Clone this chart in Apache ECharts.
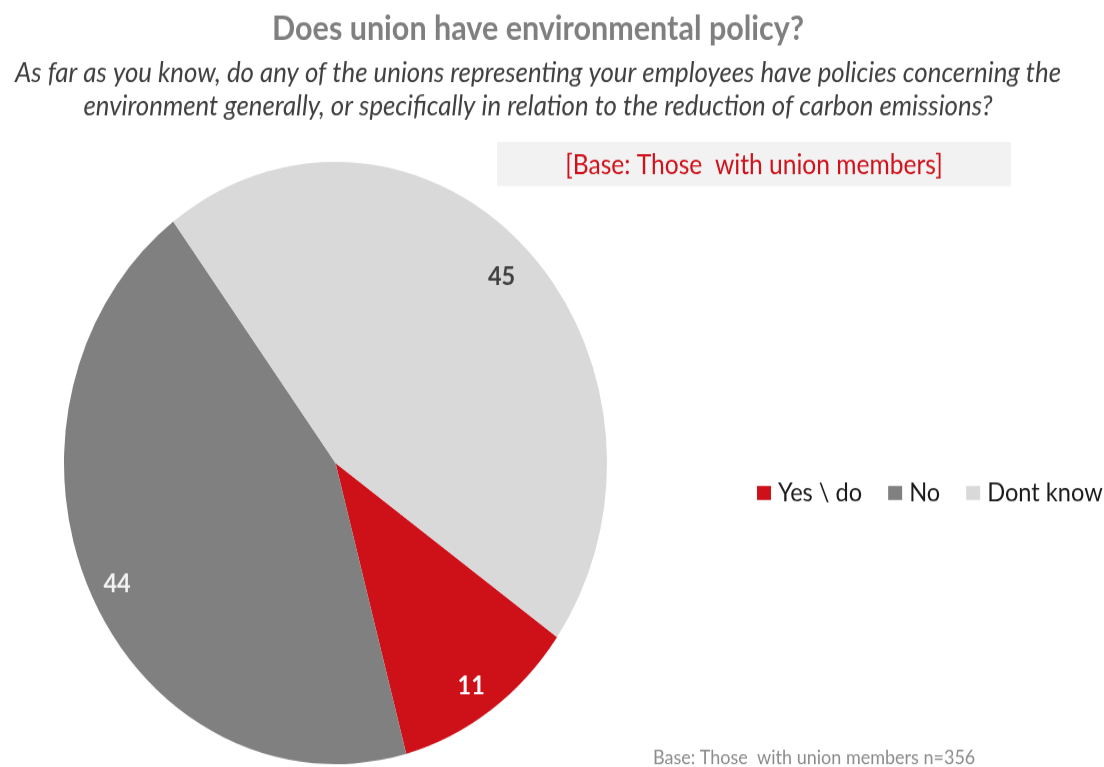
<!DOCTYPE html>
<html>
<head>
<meta charset="utf-8">
<script src="https://cdn.jsdelivr.net/npm/echarts@6/dist/echarts.min.js"></script>
<style>
  html, body { margin: 0; padding: 0; background: #ffffff; }
  #frame { width: 1104px; height: 767px; overflow: hidden; }
  /* the chart is laid out in a shorter box and stretched vertically, giving the oval pie */
  #chart { width: 1104px; height: 691.6px; transform: scaleY(1.109); transform-origin: 0 0; }
</style>
</head>
<body>
<div id="frame"><div id="chart"></div></div>
<script>
const categories = ['Yes \\ do', 'No', 'Dont know'];
const shares = [11, 44, 45];
const sliceColors = ['#CE1019', '#808080', '#D9D9D9'];
const labelColors = ['#FFFFFF', '#F2F2F2', '#404040'];

const titleText = 'Does union have environmental policy?';
const questionText = 'As far as you know, do any of the unions representing your employees have policies concerning the\nenvironment generally, or specifically in relation to the reduction of carbon emissions?';
const baseBoxText = '[Base: Those  with union members]';
const footnoteText = 'Base: Those  with union members n=356';

const FONT = 'Lato, "Open Sans", sans-serif';
const pieCenter = [335.5, 417.5];
const pieRadius = 271.5;
const startAngle = -35.3;

const chart = echarts.init(document.getElementById('chart'), null, { renderer: 'canvas' });

const sliceData = categories.map((name, i) => ({
  name: name,
  value: shares[i],
  itemStyle: { color: sliceColors[i] }
}));

const labelData = categories.map((name, i) => ({
  name: name,
  value: shares[i],
  itemStyle: { color: 'rgba(0,0,0,0)' },
  label: { color: labelColors[i] }
}));

chart.setOption({
  animation: false,
  backgroundColor: '#ffffff',
  title: [
    {
      text: titleText,
      left: 538, top: 26, padding: 0,
      textAlign: 'center', textVerticalAlign: 'middle',
      textStyle: { fontFamily: FONT, fontSize: 30.5, fontWeight: 'bold', color: '#7F7F7F' }
    },
    {
      text: questionText,
      left: 538, top: 80.8, padding: 0,
      textAlign: 'center', textVerticalAlign: 'middle',
      textStyle: { fontFamily: FONT, fontSize: 25.8, fontStyle: 'italic', fontWeight: 'normal', color: '#404040', lineHeight: 30.7 }
    },
    {
      text: baseBoxText,
      left: 754, top: 148.8, padding: 0,
      textAlign: 'center', textVerticalAlign: 'middle',
      textStyle: { fontFamily: FONT, fontSize: 24.6, fontWeight: 'normal', color: '#D0101A' }
    },
    {
      text: footnoteText,
      left: 653, top: 683.5, padding: 0,
      textAlign: 'left', textVerticalAlign: 'middle',
      textStyle: { fontFamily: FONT, fontSize: 18, fontWeight: 'normal', color: '#8C8C8C' }
    }
  ],
  graphic: [
    {
      type: 'rect', z: -1, silent: true,
      shape: { x: 497, y: 128, width: 514, height: 39.7 },
      style: { fill: '#F2F2F2' }
    }
  ],
  legend: {
    left: 757, top: 432.5, padding: 0,
    orient: 'horizontal',
    icon: 'rect', itemWidth: 14, itemHeight: 12.6, itemGap: 26,
    selectedMode: false,
    textStyle: { fontFamily: FONT, fontSize: 23.6, color: '#1A1A1A', padding: [0, 0, 0, 2] },
    data: categories.map((name, i) => ({ name: name, itemStyle: { color: sliceColors[i] } }))
  },
  series: [
    {
      name: 'slices',
      type: 'pie',
      center: pieCenter,
      radius: pieRadius,
      startAngle: startAngle,
      clockwise: true,
      silent: true,
      label: { show: false },
      labelLine: { show: false },
      itemStyle: { borderWidth: 0 },
      emphasis: { disabled: true },
      data: sliceData
    },
    {
      // transparent outer ring that carries the value labels near the rim
      name: 'values',
      type: 'pie',
      center: pieCenter,
      radius: [pieRadius * 0.75, pieRadius],
      startAngle: startAngle,
      clockwise: true,
      silent: true,
      label: {
        show: true, position: 'inside', formatter: '{c}', offset: [-2, 4],
        fontFamily: FONT, fontSize: 23.5, fontWeight: 'bold'
      },
      labelLine: { show: false },
      itemStyle: { borderWidth: 0 },
      emphasis: { disabled: true },
      data: labelData
    }
  ]
});
</script>
</body>
</html>
